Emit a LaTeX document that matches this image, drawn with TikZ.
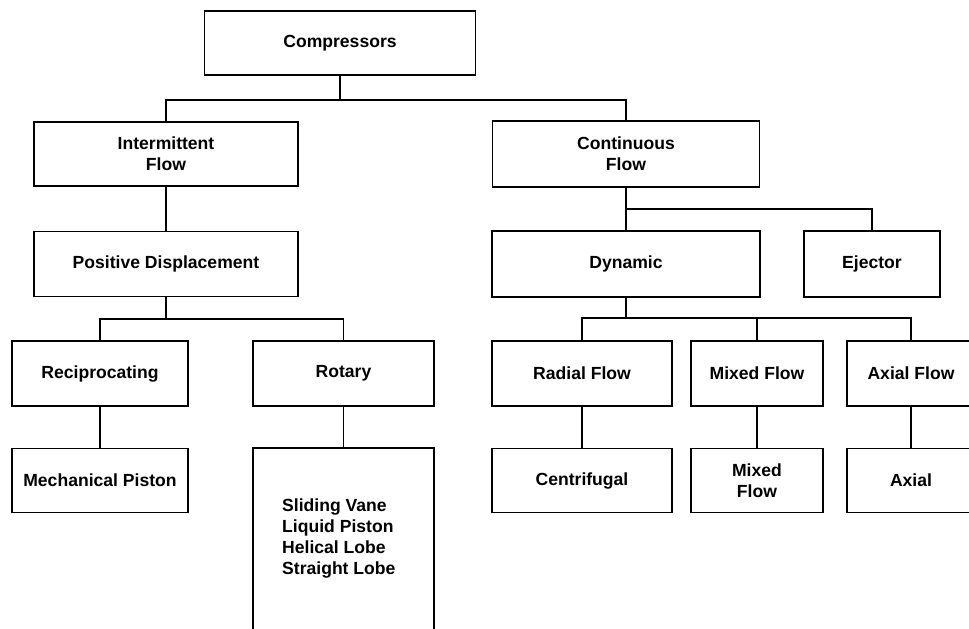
\documentclass[tikz,border=0pt]{standalone}
\usepackage{fontspec}
\setmainfont{Liberation Sans}
\usepackage{tikz}

\begin{document}
\begin{tikzpicture}[x=0.2mm,y=-0.2mm,
  mybox/.style={draw,line width=1.1pt,inner sep=0pt,align=center,
    font=\fontsize{10}{12}\selectfont\bfseries},
  boxsize/.style 2 args={minimum width=#1*0.2mm,minimum height=#2*0.2mm},
  myline/.style={line width=1.1pt}]
\useasboundingbox (0,0) rectangle (969,629);
\clip (0,0) rectangle (969,629);
% first levels
\node [mybox,boxsize={271}{64}] (comp) at (340,43) {Compressors};
\node [mybox,boxsize={264}{64}] (inter) at (166,154) {Intermittent\\Flow};
\node [mybox,boxsize={267}{66}] (cont) at (626,154) {Continuous\\Flow};
\node [mybox,boxsize={264}{65}] (posdisp) at (166,264) {Positive Displacement};
\node [mybox,boxsize={268}{66}] (dyn) at (626,264) {Dynamic};
\node [mybox,boxsize={136}{66}] (ejec) at (872,264) {Ejector};
% classes
\node [mybox,boxsize={176}{65}] (recip) at (100,373.5) {Reciprocating};
\node [mybox,boxsize={181}{65}] (rotary) at (343.5,373.5) {Rotary};
\node [mybox,boxsize={180}{65}] (radial) at (582,373.5) {Radial Flow};
\node [mybox,boxsize={132}{65}] (mixed) at (757,373.5) {Mixed Flow};
\node [mybox,boxsize={128}{65}] (axialf) at (911,373.5) {Axial Flow};
% types
\node [mybox,boxsize={176}{64}] (mech) at (100,480.5) {Mechanical Piston};
\node [mybox,boxsize={181}{212}] (types) at (343.5,554) {};
\node [align=left,font=\fontsize{10}{12}\selectfont\bfseries,anchor=west]
  (typelist) at (276,538.5) {Sliding Vane\\Liquid Piston\\Helical Lobe\\Straight Lobe};
\node [mybox,boxsize={180}{64}] (centrif) at (582,480.5) {Centrifugal};
\node [mybox,boxsize={132}{64}] (mixedt) at (757,480.5) {Mixed\\Flow};
\node [mybox,boxsize={128}{64}] (axial) at (911,480.5) {Axial};
% connectors
\foreach \from/\drop/\to in {comp/24/inter,comp/24/cont,cont/21/ejec,
  posdisp/22/recip,posdisp/22/rotary,dyn/20/radial,dyn/20/mixed,dyn/20/axialf}
  {\draw [myline] (\from.south) -- ++(0,\drop) -| (\to.north);}
\foreach \from/\to in {inter/posdisp,cont/dyn,recip/mech,rotary/types,
  radial/centrif,mixed/mixedt,axialf/axial}
  {\draw [myline] (\from.south) -- (\to.north);}
\end{tikzpicture}
\end{document}
